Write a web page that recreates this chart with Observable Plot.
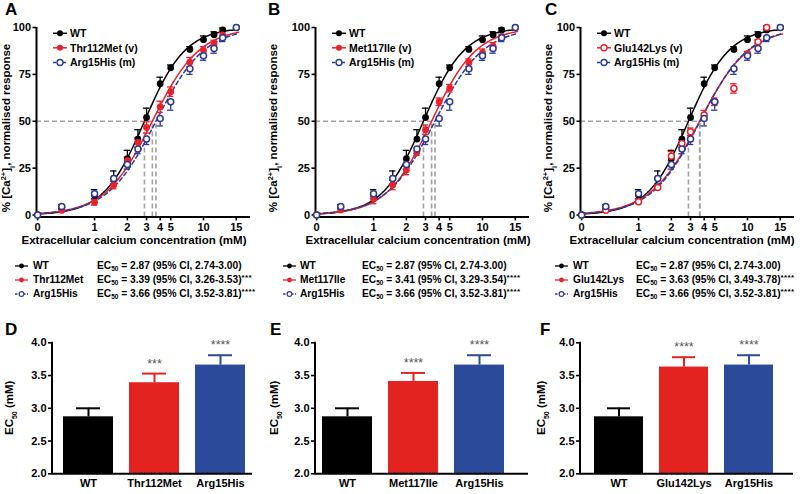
<!DOCTYPE html>
<html><head><meta charset="utf-8">
<script src="https://cdn.jsdelivr.net/npm/d3@7"></script>
<script src="https://cdn.jsdelivr.net/npm/@observablehq/plot@0.6"></script>
<style>
html,body{margin:0;padding:0;background:#fff;}
#root{position:relative;width:800px;height:494px;overflow:hidden;font-family:"Liberation Sans",Arial,sans-serif;font-weight:bold;color:#000;}
#root svg{position:absolute;overflow:visible;}
#root g[aria-label="x-axis tick"], #root g[aria-label="y-axis tick"]{stroke-width:1.6px;}
.letter{position:absolute;font-size:17px;font-weight:bold;line-height:17px;}
.row{position:absolute;height:14px;line-height:14px;font-size:10.2px;white-space:nowrap;}
.row sub{font-size:6.5px;vertical-align:-2px;line-height:0;}
.row sup{font-size:8px;letter-spacing:0.4px;vertical-align:3px;line-height:0;}
</style></head><body><div id="root"></div>
<script>
// ---------- data ----------
// concentrations (mM); 0.3 is the position drawn for the "0" point
const conc = [0.3, 0.5, 1, 1.5, 2, 2.5, 3, 4, 5, 7.5, 10, 12.5, 15, 20];
const wtResp  = [0, 4, 10.5, 19.5, 30, 40.5, 52, 70, 78.5, 88.3, 93.5, 96.2, 98.7, 100];
const wtErr   = [0.5, 1.5, 3, 4, 4.5, 5, 5, 3.5, 1.5, 1.5, 2, 1.5, 1, 0];
const argResp = [0, 4.5, 11.3, 19.5, 27, 35.2, 40.6, 51.5, 60.4, 78, 85, 88.8, 94.5, 100];
const argErr  = [0.5, 1.5, 2.5, 3, 2.5, 2.5, 3, 4, 4.5, 3, 2.5, 2.5, 2, 0];
const thrResp = [0, 2.5, 6.8, 16, 29, 38.7, 46.7, 57.7, 65.8, 81.5, 87.8, 91.2, 96, null];
const thrErr  = [0.5, 1, 1.5, 2, 2, 2.5, 3, 3, 2.5, 2.5, 2, 2, 1.5, null];
const metResp = [0, 2.7, 8.5, 16, 24, 33.7, 45.5, 60.4, 67.6, 81.2, 86.5, 90, 95, null];
const metErr  = [0.5, 1, 2.5, 2.5, 2.5, 2, 2.5, 2, 2, 2, 2, 2, 1.5, null];
const gluResp = [0, 2.5, 7.1, 14.7, 31.4, 38.2, 44.4, 53.3, 60.4, 67.5, 85.8, 92.4, 100, null];
const gluErr  = [0.5, 1, 1, 1, 2.5, 2, 2, 2.5, 2, 2.5, 1.5, 1, 1, null];

// fitted parameters
const fitNames = ["WT", "Thr112Met", "Met117Ile", "Glu142Lys", "Arg15His"];
const fitEC50  = [2.87, 3.39, 3.41, 3.63, 3.66];
const fitHill  = [2.3, 2.0, 2.1, 1.9, 1.95];
const ciLo     = [2.74, 3.26, 3.29, 3.49, 3.52];
const ciHi     = [3.00, 3.53, 3.54, 3.78, 3.81];
const sigStars = ["", "***", "****", "****", "****"];

const xTickVals   = [0.3, 1, 2, 3, 4, 5, 10, 20];
const xTickLabels = ["0", "1", "2", "3", "4", "5", "10", "15"];
const yTickVals   = [0, 25, 50, 75, 100];
const barTickVals = [2, 2.5, 3, 3.5, 4];

// ---------- style ----------
const BLACK = "#000", RED = "#e8222a", BLUE = "#2b3a96";
const BAR_RED = "#e2231f", BAR_BLUE = "#2c4a9a";
const GREY = "#a3a3a3";
const FONT = "'Liberation Sans', Arial, sans-serif";
const root = document.getElementById("root");
const xDom = [0.293, 27];
const fitX = d3.range(0, 121).map(i => 0.3 * Math.pow(21 / 0.3, i / 120));

function hillCurve(k) {
  return fitX.map(x => ({x, y: 100 / (1 + Math.pow(fitEC50[k] / x, fitHill[k]))}));
}
function rowsOf(resp, err) {
  return conc.map((c, i) => ({c, v: resp[i], e: err[i]})).filter(d => d.v != null);
}

function curvePanel(p) {
  const wt = rowsOf(wtResp, wtErr), vr = rowsOf(p.resp, p.err), ar = rowsOf(argResp, argErr);
  const ecs = [fitEC50[0], fitEC50[p.variant], fitEC50[4]];
  const capF = 1.07;
  const errMarks = (rows, color, up, down) => {
    const r = rows.filter(d => d.e > 0);
    const m = [Plot.ruleX(r, {x: "c", y1: d => down ? d.v - d.e : d.v, y2: d => up ? d.v + d.e : d.v, stroke: color, strokeWidth: 1.3})];
    if (up) m.push(Plot.ruleY(r, {y: d => d.v + d.e, x1: d => d.c / capF, x2: d => d.c * capF, stroke: color, strokeWidth: 1.3}));
    if (down) m.push(Plot.ruleY(r, {y: d => d.v - d.e, x1: d => d.c / capF, x2: d => d.c * capF, stroke: color, strokeWidth: 1.3}));
    return m;
  };
  const svg = Plot.plot({
    width: p.width, height: 250,
    marginLeft: 36, marginRight: p.width - 36 - 214, marginTop: 27, marginBottom: 33.6,
    style: {fontFamily: FONT, fontSize: "11px", fontWeight: "bold", background: "transparent", color: "#000"},
    x: {type: "log", domain: xDom, ticks: xTickVals, tickFormat: d => xTickLabels[xTickVals.indexOf(d)], tickSize: 4, tickPadding: 2, label: null},
    y: {domain: [-1, 100], ticks: yTickVals, tickSize: 3.5, tickPadding: 2, label: null},
    marks: [
      Plot.ruleY([{y: 50, x1: xDom[0], x2: d3.max(ecs)}], {y: "y", x1: "x1", x2: "x2", stroke: GREY, strokeWidth: 1.6, strokeDasharray: "5,3"}),
      Plot.ruleX(ecs.map(e => ({x: e})), {x: "x", y1: () => -1, y2: () => 50, stroke: GREY, strokeWidth: 1.6, strokeDasharray: "5,3"}),
      Plot.ruleX([xDom[0]], {stroke: "#000", strokeWidth: 2}),
      Plot.ruleY([-1], {stroke: "#000", strokeWidth: 2}),
      Plot.line(hillCurve(0), {x: "x", y: "y", stroke: BLACK, strokeWidth: 1.5}),
      Plot.line(hillCurve(p.variant), {x: "x", y: "y", stroke: RED, strokeWidth: 1.5}),
      Plot.line(hillCurve(4), {x: "x", y: "y", stroke: BLUE, strokeWidth: 1.5, strokeDasharray: "4,3"}),
      ...errMarks(wt, BLACK, true, false),
      ...errMarks(vr, RED, true, true),
      ...errMarks(ar, BLUE, false, true),
      Plot.dot(wt, {x: "c", y: "v", r: 3.4, fill: BLACK}),
      p.redOpen
        ? Plot.dot(vr, {x: "c", y: "v", r: 3, fill: "white", stroke: RED, strokeWidth: 1.5})
        : Plot.dot(vr, {x: "c", y: "v", r: 3.4, fill: RED}),
      Plot.dot(ar, {x: "c", y: "v", r: 3, fill: "white", stroke: BLUE, strokeWidth: 1.5})
    ]
  });
  svg.style.left = p.left + "px"; svg.style.top = "0px";
  const g = d3.select(svg).append("g").attr("font-family", FONT).attr("font-weight", "bold");
  // legend
  const items = [
    {label: "WT", color: BLACK, open: false},
    {label: fitNames[p.variant] + " (v)", color: RED, open: p.redOpen},
    {label: "Arg15His (m)", color: BLUE, open: true, dash: "3,2"}
  ];
  const ly = [33.3, 47.8, 62.5];
  items.forEach((it, i) => {
    g.append("line").attr("x1", 53).attr("x2", 67).attr("y1", ly[i]).attr("y2", ly[i])
      .attr("stroke", it.color).attr("stroke-width", 1.5).attr("stroke-dasharray", it.dash || null);
    g.append("circle").attr("cx", 60).attr("cy", ly[i]).attr("r", 3)
      .attr("fill", it.open ? "white" : it.color).attr("stroke", it.color).attr("stroke-width", it.open ? 1.4 : 0);
    g.append("text").attr("x", 70).attr("y", ly[i]).attr("dy", "0.36em").attr("text-anchor", "start")
      .attr("font-size", 10.5).text(it.label);
  });
  // y label
  const yl = g.append("text").attr("transform", `translate(${p.ylx},128) rotate(-90)`)
    .attr("text-anchor", "middle").attr("font-size", 11.5);
  yl.append("tspan").text("% [Ca");
  yl.append("tspan").attr("font-size", 7.5).attr("baseline-shift", "super").text("2+");
  yl.append("tspan").text("]");
  yl.append("tspan").attr("font-size", 7.5).attr("baseline-shift", "sub").text("i");
  yl.append("tspan").text(", normalised response");
  // x label
  g.append("text").attr("x", p.xlx).attr("y", 244).attr("text-anchor", "middle").attr("font-size", 11.5)
    .text("Extracellular calcium concentration (mM)");
  root.appendChild(svg);
}

function barPanel(p) {
  const idx = [0, p.variant, 4];
  const colors = [BLACK, BAR_RED, BAR_BLUE];
  const cats = idx.map(k => fitNames[k]);
  const rows = idx.map((k, j) => ({cat: fitNames[k], ec: fitEC50[k], hi: ciHi[k], star: sigStars[k], color: colors[j]}));
  const svg = Plot.plot({
    width: p.width, height: 174,
    marginLeft: 52, marginRight: p.width - 52 - p.axisLen, marginTop: 22.3, marginBottom: 20.7,
    style: {fontFamily: FONT, fontSize: "11px", fontWeight: "bold", background: "transparent", color: "#000"},
    color: {type: "identity"},
    x: {type: "band", domain: cats, range: p.range, paddingInner: 0.25, paddingOuter: 0.125, tickSize: 0, tickPadding: 5, label: null},
    y: {domain: [2, 4], ticks: barTickVals, tickFormat: d3.format(".1f"), tickSize: 4, tickPadding: 2, label: null},
    marks: [
      Plot.ruleX(rows, {x: "cat", y1: "ec", y2: "hi", stroke: "color", strokeWidth: 2}),
      Plot.tickY(rows, {x: "cat", y: "hi", stroke: "color", strokeWidth: 2, insetLeft: 13, insetRight: 13}),
      Plot.barY(rows, {x: "cat", y1: () => 2, y2: "ec", fill: "color"}),
      Plot.text(rows, {x: "cat", y: "hi", text: "star", dy: -10, fill: "#555", fontSize: 12.5, fontWeight: "normal"}),
      Plot.ruleY([2], {stroke: "#000", strokeWidth: 2})
    ]
  });
  svg.style.left = p.left + "px"; svg.style.top = "320px";
  const ys = svg.scale("y");
  const g = d3.select(svg).append("g").attr("font-family", FONT).attr("font-weight", "bold");
  g.append("line").attr("x1", 52).attr("x2", 52).attr("y1", ys.apply(4) - 0.5).attr("y2", ys.apply(2) + 1)
    .attr("stroke", "#000").attr("stroke-width", 2);
  const yl = g.append("text").attr("transform", `translate(${p.ylx},${(ys.apply(4) + ys.apply(2)) / 2}) rotate(-90)`)
    .attr("text-anchor", "middle").attr("font-size", 11.5);
  yl.append("tspan").text("EC");
  yl.append("tspan").attr("font-size", 7).attr("baseline-shift", "sub").text("50");
  yl.append("tspan").text(" (mM)");
  root.appendChild(svg);
}

function markerSvg(color, open, dash) {
  return `<svg width="13" height="8" style="position:absolute;left:0;top:3px" viewBox="0 0 13 8">
    <line x1="0" x2="13" y1="4" y2="4" stroke="${color}" stroke-width="1.3" ${dash ? 'stroke-dasharray="2.5,1.5"' : ''}/>
    <circle cx="6.5" cy="4" r="2.4" fill="${open ? 'white' : color}" stroke="${color}" stroke-width="${open ? 1.1 : 0}"/></svg>`;
}
function table(p) {
  const idx = [0, p.variant, 4];
  const mk = [[BLACK, false, false], [RED, false, false], [BLUE, true, true]];
  idx.forEach((k, j) => {
    const row = document.createElement("div");
    row.className = "row";
    row.style.left = p.mx + "px"; row.style.top = (259 + 14 * j) + "px";
    row.innerHTML = `<span style="position:relative;display:block;width:240px;height:14px">${markerSvg(...mk[j])}
      <span style="position:absolute;left:${p.nx - p.mx}px">${fitNames[k]}</span>
      <span style="position:absolute;left:${p.ex - p.mx}px">EC<sub>50</sub> = ${fitEC50[k].toFixed(2)} (95% CI, ${ciLo[k].toFixed(2)}-${ciHi[k].toFixed(2)})${sigStars[k] ? `<sup>${sigStars[k]}</sup>` : ""}</span></span>`;
    root.appendChild(row);
  });
}
function letter(t, x, y) {
  const d = document.createElement("div");
  d.className = "letter"; d.textContent = t;
  d.style.left = x + "px"; d.style.top = y + "px";
  root.appendChild(d);
}

curvePanel({left: 0, width: 265, variant: 1, resp: thrResp, err: thrErr, redOpen: false, ylx: 10, xlx: 134});
curvePanel({left: 279, width: 265, variant: 2, resp: metResp, err: metErr, redOpen: false, ylx: -2, xlx: 139});
curvePanel({left: 544, width: 256, variant: 3, resp: gluResp, err: gluErr, redOpen: true, ylx: 8, xlx: 138});

table({variant: 1, mx: 15, nx: 33, ex: 97});
table({variant: 2, mx: 283, nx: 300, ex: 362});
table({variant: 3, mx: 555, nx: 573, ex: 636});

barPanel({left: 0, width: 265, axisLen: 200, variant: 1, range: [53.3, 253.6], ylx: 13});
barPanel({left: 263, width: 270, axisLen: 213, variant: 2, range: [49.7, 249.7], ylx: 15});
barPanel({left: 528, width: 270, axisLen: 213, variant: 3, range: [57.5, 252.5], ylx: 17});

letter("A", 5, 1); letter("B", 268, 1); letter("C", 545, 1);
letter("D", 5, 321); letter("E", 270, 321); letter("F", 540, 321);
</script>
</body></html>
